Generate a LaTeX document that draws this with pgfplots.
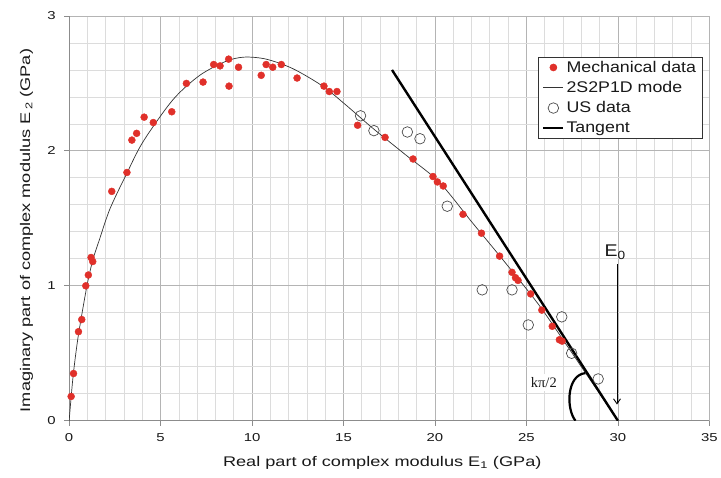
\documentclass[border=0pt]{standalone}
\usepackage{fontspec}
\setmainfont[FakeStretch=1.3]{Liberation Sans}
\newfontfamily\legfont[FakeStretch=1.15]{Liberation Sans}
\newfontfamily\seriffont{Liberation Serif}
\usepackage{pgfplots}
\pgfplotsset{compat=1.18}
\usetikzlibrary{arrows.meta}
\definecolor{mechred}{HTML}{E0302A}
\definecolor{gridminor}{HTML}{DCDCDC}
\definecolor{gridmajor}{HTML}{B4B4B4}
\definecolor{axisgray}{HTML}{8C8C8C}

\begin{document}
\begin{tikzpicture}
\begin{axis}[
  name=ax,
  width=641.7pt, height=405.7pt, scale only axis,
  xmin=0, xmax=35, ymin=0, ymax=3,
  xtick={0,5,...,35}, ytick={0,1,2,3},
  minor x tick num=4, minor y tick num=4,
  grid=both,
  major grid style={gridmajor, line width=0.8pt},
  minor grid style={gridminor, line width=0.8pt},
  axis x line*=bottom, axis y line*=left,
  axis line style={axisgray, line width=0.9pt, -},
  tick style={axisgray, line width=0.8pt},
  tick align=outside,
  major tick length=5pt, minor tick length=0pt,
  /pgf/number format/assume math mode=true,
  tick label style={font=\fontsize{11.5}{13}\selectfont, text=black!90},
  xticklabel style={yshift=-4pt},
  yticklabel style={xshift=-5pt},
  label style={font=\fontsize{14}{16}\selectfont, text=black!90},
  xlabel={Real part of complex modulus E\textsubscript{1} (GPa)},
  ylabel={Imaginary part of complex modulus E\,\textsubscript{2} (GPa)},
  xlabel style={at={(axis description cs:0.489,-0.104)}, anchor=center},
  ylabel style={at={(axis description cs:-0.0664,0.47)}, anchor=center},
  legend cell align=left,
  legend image code/.code={\draw[mark repeat=2,mark phase=2,#1] plot coordinates {(0pt,0pt) (10pt,0pt) (20pt,0pt)};},
  legend style={at={(0.989,0.899)}, anchor=north east, draw=black!80, line width=0.6pt,
    fill=white, font=\legfont\fontsize{15.5}{18}\selectfont, text=black!90,
    row sep=3.6pt, inner xsep=4pt, inner ysep=2pt,
    nodes={inner sep=2pt}},
]
\addplot[only marks, mark=*, mark size=3.5pt, mark options={fill=mechred, draw=mechred}] coordinates {
(0.11,0.18) (0.24,0.35) (0.51,0.66) (0.69,0.75) (0.91,1.00) (1.05,1.08) (1.20,1.21) (1.29,1.18)
(2.33,1.70) (3.16,1.84) (3.43,2.08) (3.69,2.13) (4.10,2.25) (4.60,2.21) (5.61,2.29) (6.41,2.50)
(7.32,2.51) (7.90,2.64) (8.25,2.63) (8.72,2.68) (8.74,2.48) (9.26,2.62) (10.50,2.56) (10.77,2.64)
(11.13,2.62) (11.60,2.64) (12.46,2.54) (13.93,2.48) (14.22,2.44) (14.64,2.44) (15.77,2.19)
(17.27,2.10) (18.80,1.94) (19.89,1.81) (20.13,1.77) (20.45,1.74) (21.53,1.53) (22.54,1.39)
(23.53,1.22) (24.21,1.10) (24.40,1.06) (24.54,1.04) (25.23,0.94) (25.84,0.82) (26.41,0.70)
(26.80,0.60) (26.95,0.59)
};
\addlegendentry{Mechanical data}
\addplot[black!80, line width=0.7pt, smooth, tension=0.5] coordinates {
(0,0) (0.1,0.16) (0.24,0.36) (0.5,0.63) (0.96,0.99) (1.29,1.19) (1.65,1.34) (2.23,1.57)
(3.14,1.83) (4.05,2.07) (5.68,2.38) (7.14,2.56) (8.59,2.665) (9.59,2.695) (10.77,2.68)
(12.22,2.61) (13.86,2.48) (15.13,2.34) (16.58,2.17) (18.4,1.97) (20.22,1.77) (22.03,1.47)
(23.85,1.17) (25.67,0.86) (27.3,0.54) (28.2,0.36) (29.1,0.18) (30,0)
};
\addlegendentry{2S2P1D mode}
\addplot[only marks, mark=o, mark size=5.3pt, mark options={draw=black!70, line width=0.7pt}] coordinates {
(15.93,2.26) (16.66,2.15) (18.49,2.14) (19.18,2.09) (20.67,1.59) (22.58,0.97) (24.21,0.97)
(25.10,0.71) (26.93,0.77) (27.47,0.50) (28.92,0.31)
};
\addlegendentry{US data}
\addplot[black, line width=2.4pt] coordinates {(17.65,2.6) (30,0)};
\addlegendentry{Tangent}

\node[font=\legfont\fontsize{17}{19}\selectfont, text=black!90] at (axis cs:29.85,1.25) {E\textsubscript{0}};
\draw[-{Straight Barb[length=5pt,width=7pt]}, line width=0.9pt] (axis cs:29.95,1.16) -- (axis cs:29.95,0.12);
\draw[line width=2.2pt] (axis cs:28.22,0.353) .. controls (axis cs:27.2,0.34) and (axis cs:27.15,0.09) .. (axis cs:27.68,0);
\node[fill=white, inner sep=3pt, font=\seriffont\fontsize{14.5}{16}\selectfont, text=black!90] at (axis cs:25.95,0.284) {kπ/2};
\end{axis}
\path ([xshift=-69.3pt,yshift=-57.3pt]ax.south west) rectangle ([xshift=10pt,yshift=16pt]ax.north east);
\end{tikzpicture}
\end{document}
